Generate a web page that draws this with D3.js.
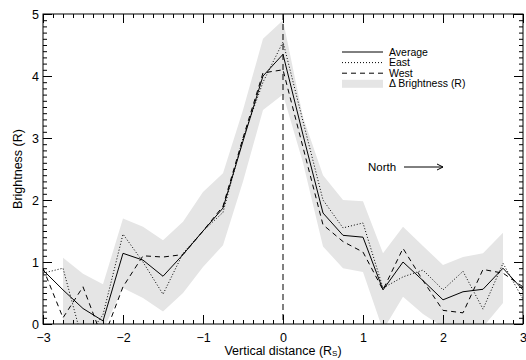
<!DOCTYPE html>
<html>
<head>
<meta charset="utf-8">
<script src="https://cdn.jsdelivr.net/npm/d3@7"></script>
<style>
body { margin: 0; background: #fff; }
text { font-family: "Liberation Sans", Arial, sans-serif; fill: #000; }
</style>
</head>
<body>
<svg id="chart"></svg>
<script>
// distance in solar radii
var dist = [-3, -2.75, -2.5, -2.25, -2, -1.75, -1.5, -1.25, -1, -0.75, -0.5, -0.25, 0,
            0.25, 0.5, 0.75, 1, 1.25, 1.5, 1.75, 2, 2.25, 2.5, 2.75, 3];
var average = [0.87, 0.55, 0.25, 0.05, 1.14, 1.03, 0.77, 1.12, 1.5, 1.87, 2.95, 4.0, 4.35,
               3.05, 1.79, 1.43, 1.4, 0.55, 1.0, 0.7, 0.39, 0.52, 0.56, 0.9, 0.55];
var east = [0.82, 0.9, -0.3, 0.15, 1.45, 1.0, 0.48, 1.14, 1.5, 1.8, 3.0, 3.9, 4.55,
            3.27, 2.0, 1.55, 1.63, 0.58, 0.76, 0.87, 0.55, 0.85, 0.24, 0.98, 0.4];
var west = [0.9, 0.1, 0.6, -0.25, 0.6, 1.1, 1.08, 1.12, 1.5, 1.9, 3.0, 4.05, 4.1,
            2.85, 1.6, 1.33, 1.16, 0.55, 1.22, 0.7, 0.22, 0.18, 0.88, 0.82, 0.6];

// delta brightness band
var bandDist = [-2.75, -2.5, -2.25, -2, -1.75, -1.5, -1.25, -1, -0.75, -0.5, -0.25, 0,
                0.25, 0.5, 0.75, 1, 1.25, 1.5, 1.75, 2, 2.25, 2.5, 2.75];
var bandHigh = [1.07, 0.81, 0.64, 1.7, 1.57, 1.35, 1.65, 2.13, 2.43, 3.45, 4.6, 4.9,
                3.34, 2.4, 2.0, 1.98, 1.14, 1.57, 1.26, 0.95, 1.08, 1.14, 1.47];
var bandLow = [-0.3, -0.4, -0.1, 0.58, 0.42, 0.2, 0.5, 0.92, 1.27, 2.3, 3.45, 3.7,
               2.6, 1.25, 0.9, 0.84, -0.1, 0.44, 0.16, -0.05, -0.2, -0.05, 0.34];

var xTicks = [-3, -2, -1, 0, 1, 2, 3];
var yTicks = [0, 1, 2, 3, 4, 5];
var legendNames = ["Average", "East", "West", "\u0394 Brightness (R)"];

var margin = {top: 14, right: 3, bottom: 36, left: 43},
    width = 526 - margin.left - margin.right,
    height = 360 - margin.top - margin.bottom;

var svg = d3.select("#chart")
    .attr("width", 526)
    .attr("height", 360);

var g = svg.append("g")
    .attr("transform", "translate(" + margin.left + "," + margin.top + ")");

var x = d3.scaleLinear().domain([-3, 3]).range([0, width]);
var y = d3.scaleLinear().domain([0, 5]).range([height, 0]);

g.append("clipPath").attr("id", "clip")
    .append("rect").attr("width", width).attr("height", height);

var plot = g.append("g").attr("clip-path", "url(#clip)");

var band = bandDist.map(function(d, i) { return {x: d, lo: bandLow[i], hi: bandHigh[i]}; });
plot.append("path")
    .datum(band)
    .attr("fill", "#e5e5e5")
    .attr("d", d3.area()
        .x(function(d) { return x(d.x); })
        .y0(function(d) { return y(d.lo); })
        .y1(function(d) { return y(d.hi); }));

var line = d3.line()
    .x(function(d, i) { return x(dist[i]); })
    .y(function(d) { return y(d); });

plot.append("path").datum(east)
    .attr("fill", "none").attr("stroke", "#000").attr("stroke-width", 1)
    .attr("stroke-dasharray", "1,2")
    .attr("d", line);
plot.append("path").datum(west)
    .attr("fill", "none").attr("stroke", "#000").attr("stroke-width", 1)
    .attr("stroke-dasharray", "5,4")
    .attr("d", line);
plot.append("path").datum(average)
    .attr("fill", "none").attr("stroke", "#000").attr("stroke-width", 1)
    .attr("d", line);

// zero line
g.append("line")
    .attr("x1", x(0)).attr("x2", x(0))
    .attr("y1", 0).attr("y2", height)
    .attr("stroke", "#000").attr("stroke-dasharray", "6,4");

// axes, ticks on all four sides
function styleAxis(sel) {
    sel.select(".domain").remove();
    sel.selectAll("line").attr("stroke", "#000");
    sel.selectAll("text").style("font-size", "12.5px")
        .style("font-family", "'Liberation Sans', Arial, sans-serif");
}
var xMinor = d3.range(-3, 3.0001, 0.125);
var yMinor = d3.range(0, 5.0001, 0.1);

g.append("g").attr("transform", "translate(0," + height + ")")
    .call(d3.axisBottom(x).tickValues(xMinor).tickSize(-4).tickFormat(""))
    .call(styleAxis);
g.append("g").attr("transform", "translate(0," + height + ")")
    .call(d3.axisBottom(x).tickValues(xTicks).tickSize(-9).tickPadding(9)
        .tickFormat(function(d) { return d < 0 ? "\u2212" + Math.abs(d) : d; }))
    .call(styleAxis);
g.append("g")
    .call(d3.axisTop(x).tickValues(xMinor).tickSize(-4).tickFormat(""))
    .call(styleAxis);
g.append("g")
    .call(d3.axisTop(x).tickValues(xTicks).tickSize(-9).tickFormat(""))
    .call(styleAxis);

g.append("g")
    .call(d3.axisLeft(y).tickValues(yMinor).tickSize(-4).tickFormat(""))
    .call(styleAxis);
g.append("g")
    .call(d3.axisLeft(y).tickValues(yTicks).tickSize(-9).tickPadding(4).tickFormat(d3.format("d")))
    .call(styleAxis);
g.append("g").attr("transform", "translate(" + width + ",0)")
    .call(d3.axisRight(y).tickValues(yMinor).tickSize(-4).tickFormat(""))
    .call(styleAxis);
g.append("g").attr("transform", "translate(" + width + ",0)")
    .call(d3.axisRight(y).tickValues(yTicks).tickSize(-9).tickFormat(""))
    .call(styleAxis);

g.append("rect")
    .attr("width", width).attr("height", height)
    .attr("fill", "none").attr("stroke", "#000").attr("stroke-width", 1);

// axis titles
var xt = svg.append("text")
    .attr("x", margin.left + x(0)).attr("y", 355)
    .attr("text-anchor", "middle")
    .style("font-size", "12.5px");
xt.append("tspan").text("Vertical distance (R");
xt.append("tspan").attr("baseline-shift", "-18%").style("font-size", "8px").text("S");
xt.append("tspan").text(")");

svg.append("text")
    .attr("transform", "translate(22," + (margin.top + height / 2) + ") rotate(-90)")
    .attr("text-anchor", "middle")
    .style("font-size", "12.5px")
    .text("Brightness (R)");

// legend
var lg = svg.append("g").attr("transform", "translate(342,52)");
var dashes = [null, "1,2", "5,4"];
legendNames.forEach(function(name, i) {
    var yy = i * 10.6;
    if (i < 3) {
        lg.append("line")
            .attr("x1", 0).attr("x2", 41).attr("y1", yy).attr("y2", yy)
            .attr("stroke", "#000").attr("stroke-width", 1)
            .attr("stroke-dasharray", dashes[i]);
    } else {
        lg.append("rect")
            .attr("x", 0).attr("y", yy - 4).attr("width", 41).attr("height", 8)
            .attr("fill", "#e5e5e5");
    }
    lg.append("text")
        .attr("x", 47).attr("y", yy + 3.5)
        .style("font-size", "10.5px")
        .text(name);
});

// direction note
svg.append("text")
    .attr("x", 368).attr("y", 171)
    .style("font-size", "11.5px")
    .text("North");
svg.append("line")
    .attr("x1", 404).attr("x2", 443).attr("y1", 167).attr("y2", 167)
    .attr("stroke", "#000");
svg.append("path")
    .attr("d", "M437,164L443,167L437,170")
    .attr("fill", "none").attr("stroke", "#000");
</script>
</body>
</html>
